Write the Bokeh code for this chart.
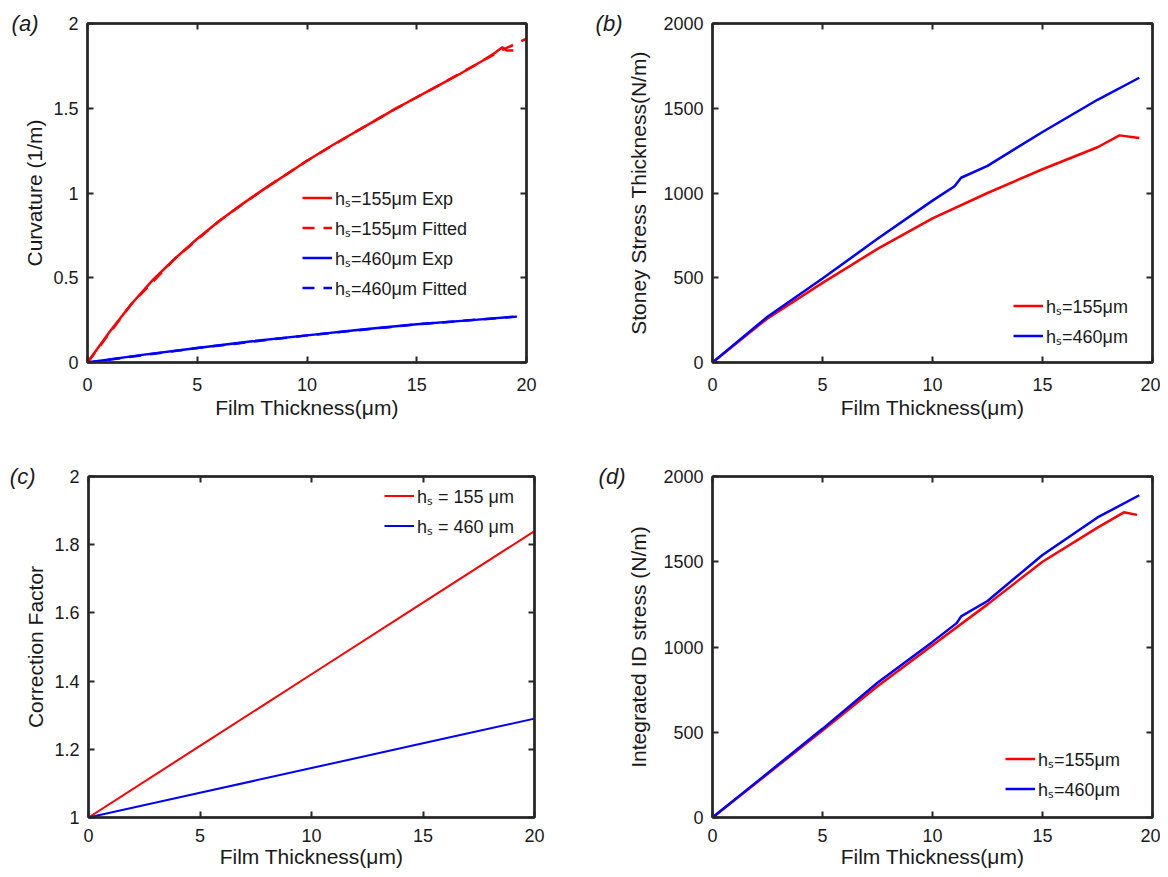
from bokeh.plotting import figure
from bokeh.layouts import column, row
from bokeh.models import (LinearAxis, Legend, LegendItem, FixedTicker,
                          CustomJSTickFormatter)
from bokeh.embed import file_html
from bokeh.resources import INLINE

FONT = "Liberation Sans"
AXC = "#262626"
TXT = "#1a1a1a"
RED = "#FF0000"
BLUE = "#0000FF"
SUB_S = "\u209b"
MU = "\u03bc"

# ---------------- data ----------------
x_ticks = [0, 5, 10, 15, 20]

# (a) curvature
a_exp155_x = [0, 1, 2, 3, 4, 5, 6, 7, 8, 9, 10, 11, 12, 13, 14, 15, 16, 17, 18, 18.6, 18.9, 19.1, 19.4]
a_exp155_y = [0, 0.18, 0.345, 0.49, 0.615, 0.73, 0.835, 0.93, 1.02, 1.105, 1.19, 1.27, 1.345, 1.42,
              1.495, 1.565, 1.635, 1.705, 1.78, 1.83, 1.86, 1.84, 1.84]
a_fit155_x = [0, 2, 4, 6, 8, 10, 12, 14, 16, 18, 19, 20]
a_fit155_y = [0, 0.345, 0.615, 0.835, 1.02, 1.19, 1.345, 1.495, 1.635, 1.78, 1.85, 1.91]
a_exp460_x = [0, 2.5, 5, 7.5, 10, 12.5, 15, 17.5, 19.4]
a_exp460_y = [0, 0.045, 0.085, 0.125, 0.16, 0.195, 0.225, 0.25, 0.27]
a_fit460_x = [0, 5, 10, 15, 20]
a_fit460_y = [0, 0.085, 0.16, 0.225, 0.275]
a_yticks = [0, 0.5, 1, 1.5, 2]

# (b) Stoney stress thickness
b_155_x = [0, 2.5, 5, 7.5, 10, 12.5, 15, 17.5, 18.5, 19.4]
b_155_y = [0, 260, 470, 670, 850, 1000, 1140, 1270, 1340, 1325]
b_460_x = [0, 2.5, 5, 7.5, 10, 11.0, 11.3, 12.5, 15, 17.5, 19.4]
b_460_y = [0, 270, 495, 730, 955, 1040, 1090, 1160, 1360, 1550, 1680]
b_yticks = [0, 500, 1000, 1500, 2000]

# (c) correction factor
c_x = [0, 5, 10, 15, 20]
c_155_y = [1.0, 1.21, 1.42, 1.63, 1.84]
c_460_y = [1.0, 1.0725, 1.145, 1.2175, 1.29]
c_yticks = [1, 1.2, 1.4, 1.6, 1.8, 2]

# (d) integrated ID stress
d_155_x = [0, 2.5, 5, 7.5, 10, 12.5, 15, 17.5, 18.7, 19.3]
d_155_y = [0, 255, 510, 770, 1010, 1250, 1500, 1700, 1790, 1775]
d_460_x = [0, 2.5, 5, 7.5, 10, 11.1, 11.3, 12.5, 15, 17.5, 19.4]
d_460_y = [0, 260, 520, 790, 1030, 1140, 1180, 1270, 1540, 1760, 1890]
d_yticks = [0, 500, 1000, 1500, 2000]

x_label = "Film Thickness(" + MU + "m)"


def style_axis(ax):
    ax.axis_line_color = AXC
    ax.axis_line_width = 2.5
    ax.major_tick_line_color = AXC
    ax.major_tick_line_width = 2
    ax.major_tick_in = 6
    ax.major_tick_out = 0
    ax.minor_tick_line_color = None
    ax.axis_label_text_font = FONT
    ax.axis_label_text_font_size = "21px"
    ax.axis_label_text_font_style = "normal"
    ax.axis_label_text_color = TXT
    ax.major_label_text_font = FONT
    ax.major_label_text_color = TXT
    ax.major_label_text_font_size = "18px"


def hide_labels(ax):
    ax.major_label_text_font_size = "0px"
    ax.major_label_standoff = 0
    ax.formatter = CustomJSTickFormatter(code="return '';")


def make_fig(w, h, bl, br, bt, bb, yr, yticks, ylabel, ylab_standoff,
             letter, letter_standoff, xl_standoff, xa_standoff):
    p = figure(width=w, height=h, x_range=(0, 20), y_range=yr,
               output_backend="svg", toolbar_location=None,
               min_border_left=bl, min_border_right=br,
               min_border_top=bt, min_border_bottom=bb)
    p.grid.visible = False
    p.outline_line_color = AXC
    p.outline_line_width = 2
    p.background_fill_color = "white"
    p.border_fill_color = "white"
    fmt = CustomJSTickFormatter(code="return String(Math.round(tick*1000)/1000);")
    p.xaxis.ticker = FixedTicker(ticks=x_ticks)
    p.yaxis.ticker = FixedTicker(ticks=yticks)
    p.xaxis.axis_label = x_label
    p.yaxis.axis_label = ylabel
    for ax in p.xaxis:
        style_axis(ax)
        ax.formatter = fmt
        ax.major_label_standoff = xl_standoff
        ax.axis_label_standoff = xa_standoff
    for ax in p.yaxis:
        style_axis(ax)
        ax.formatter = fmt
        ax.major_label_standoff = 9
        ax.axis_label_standoff = ylab_standoff
    top = LinearAxis(ticker=FixedTicker(ticks=x_ticks))
    right = LinearAxis(ticker=FixedTicker(ticks=yticks))
    for ax in (top, right):
        style_axis(ax)
        hide_labels(ax)
    p.add_layout(top, "above")
    p.add_layout(right, "right")
    # panel letter: an outer left axis carrying a single label at the top of the frame
    lab = LinearAxis(ticker=FixedTicker(ticks=[yr[1]]),
                     formatter=CustomJSTickFormatter(code="return '(%s)';" % letter))
    style_axis(lab)
    lab.axis_line_color = None
    lab.major_tick_line_color = None
    lab.major_label_text_font_size = "22px"
    lab.major_label_text_font_style = "italic"
    lab.major_label_standoff = letter_standoff
    p.add_layout(lab, "left")
    return p


def add_legend(p, items, loc):
    lg = Legend(items=items, location=loc, border_line_alpha=0,
                background_fill_alpha=0, padding=0, margin=0, spacing=5,
                glyph_width=30, glyph_height=25, label_height=25,
                label_standoff=3, label_text_font=FONT,
                label_text_font_size="18px", label_text_color=TXT)
    p.add_layout(lg)


def hs(v, suffix=""):
    return "h" + SUB_S + "=" + v + MU + "m" + suffix


# (a)
pa = make_fig(588, 438, 87, 62, 23, 76, (0, 2), a_yticks, "Curvature (1/m)", 4, "a", -18, 15, 2)
rf1 = pa.line(a_fit155_x, a_fit155_y, color=RED, line_width=2.5, line_dash="12 9")
rf2 = pa.line(a_fit460_x, a_fit460_y, color=BLUE, line_width=2.5, line_dash="12 9")
re1 = pa.line(a_exp155_x, a_exp155_y, color=RED, line_width=2.5)
re2 = pa.line(a_exp460_x, a_exp460_y, color=BLUE, line_width=2.5)
add_legend(pa, [LegendItem(label=hs("155", " Exp"), renderers=[re1]),
                LegendItem(label=hs("155", " Fitted"), renderers=[rf1]),
                LegendItem(label=hs("460", " Exp"), renderers=[re2]),
                LegendItem(label=hs("460", " Fitted"), renderers=[rf2])], (215, 62))

# (b)
pb = make_fig(572, 438, 124, 8, 23, 73, (0, 2000), b_yticks, "Stoney Stress Thickness(N/m)", 10, "b", 2, 15, 2)
rb1 = pb.line(b_155_x, b_155_y, color=RED, line_width=2.5)
rb2 = pb.line(b_460_x, b_460_y, color=BLUE, line_width=2.5)
add_legend(pb, [LegendItem(label=hs("155"), renderers=[rb1]),
                LegendItem(label=hs("460"), renderers=[rb2])], (301, 14))

# (c)
pc = make_fig(588, 438, 88, 54, 38, 59, (1, 2), c_yticks, "Correction Factor", 4, "c", -14, 11, 0)
rc1 = pc.line(c_x, c_155_y, color=RED, line_width=2)
rc2 = pc.line(c_x, c_460_y, color=BLUE, line_width=2)
add_legend(pc, [LegendItem(label="h" + SUB_S + " = 155 " + MU + "m", renderers=[rc1]),
                LegendItem(label="h" + SUB_S + " = 460 " + MU + "m", renderers=[rc2])], (296, 279))

# (d)
pd_ = make_fig(572, 438, 124, 8, 38, 59, (0, 2000), d_yticks, "Integrated ID stress (N/m)", 10, "d", -1, 11, 0)
rd1 = pd_.line(d_155_x, d_155_y, color=RED, line_width=2.5)
rd2 = pd_.line(d_460_x, d_460_y, color=BLUE, line_width=2.5)
add_legend(pd_, [LegendItem(label=hs("155"), renderers=[rd1]),
                 LegendItem(label=hs("460"), renderers=[rd2])], (293, 16))

layout = column(row(pa, pb), row(pc, pd_))
open("out.html", "w").write(file_html(layout, INLINE))
